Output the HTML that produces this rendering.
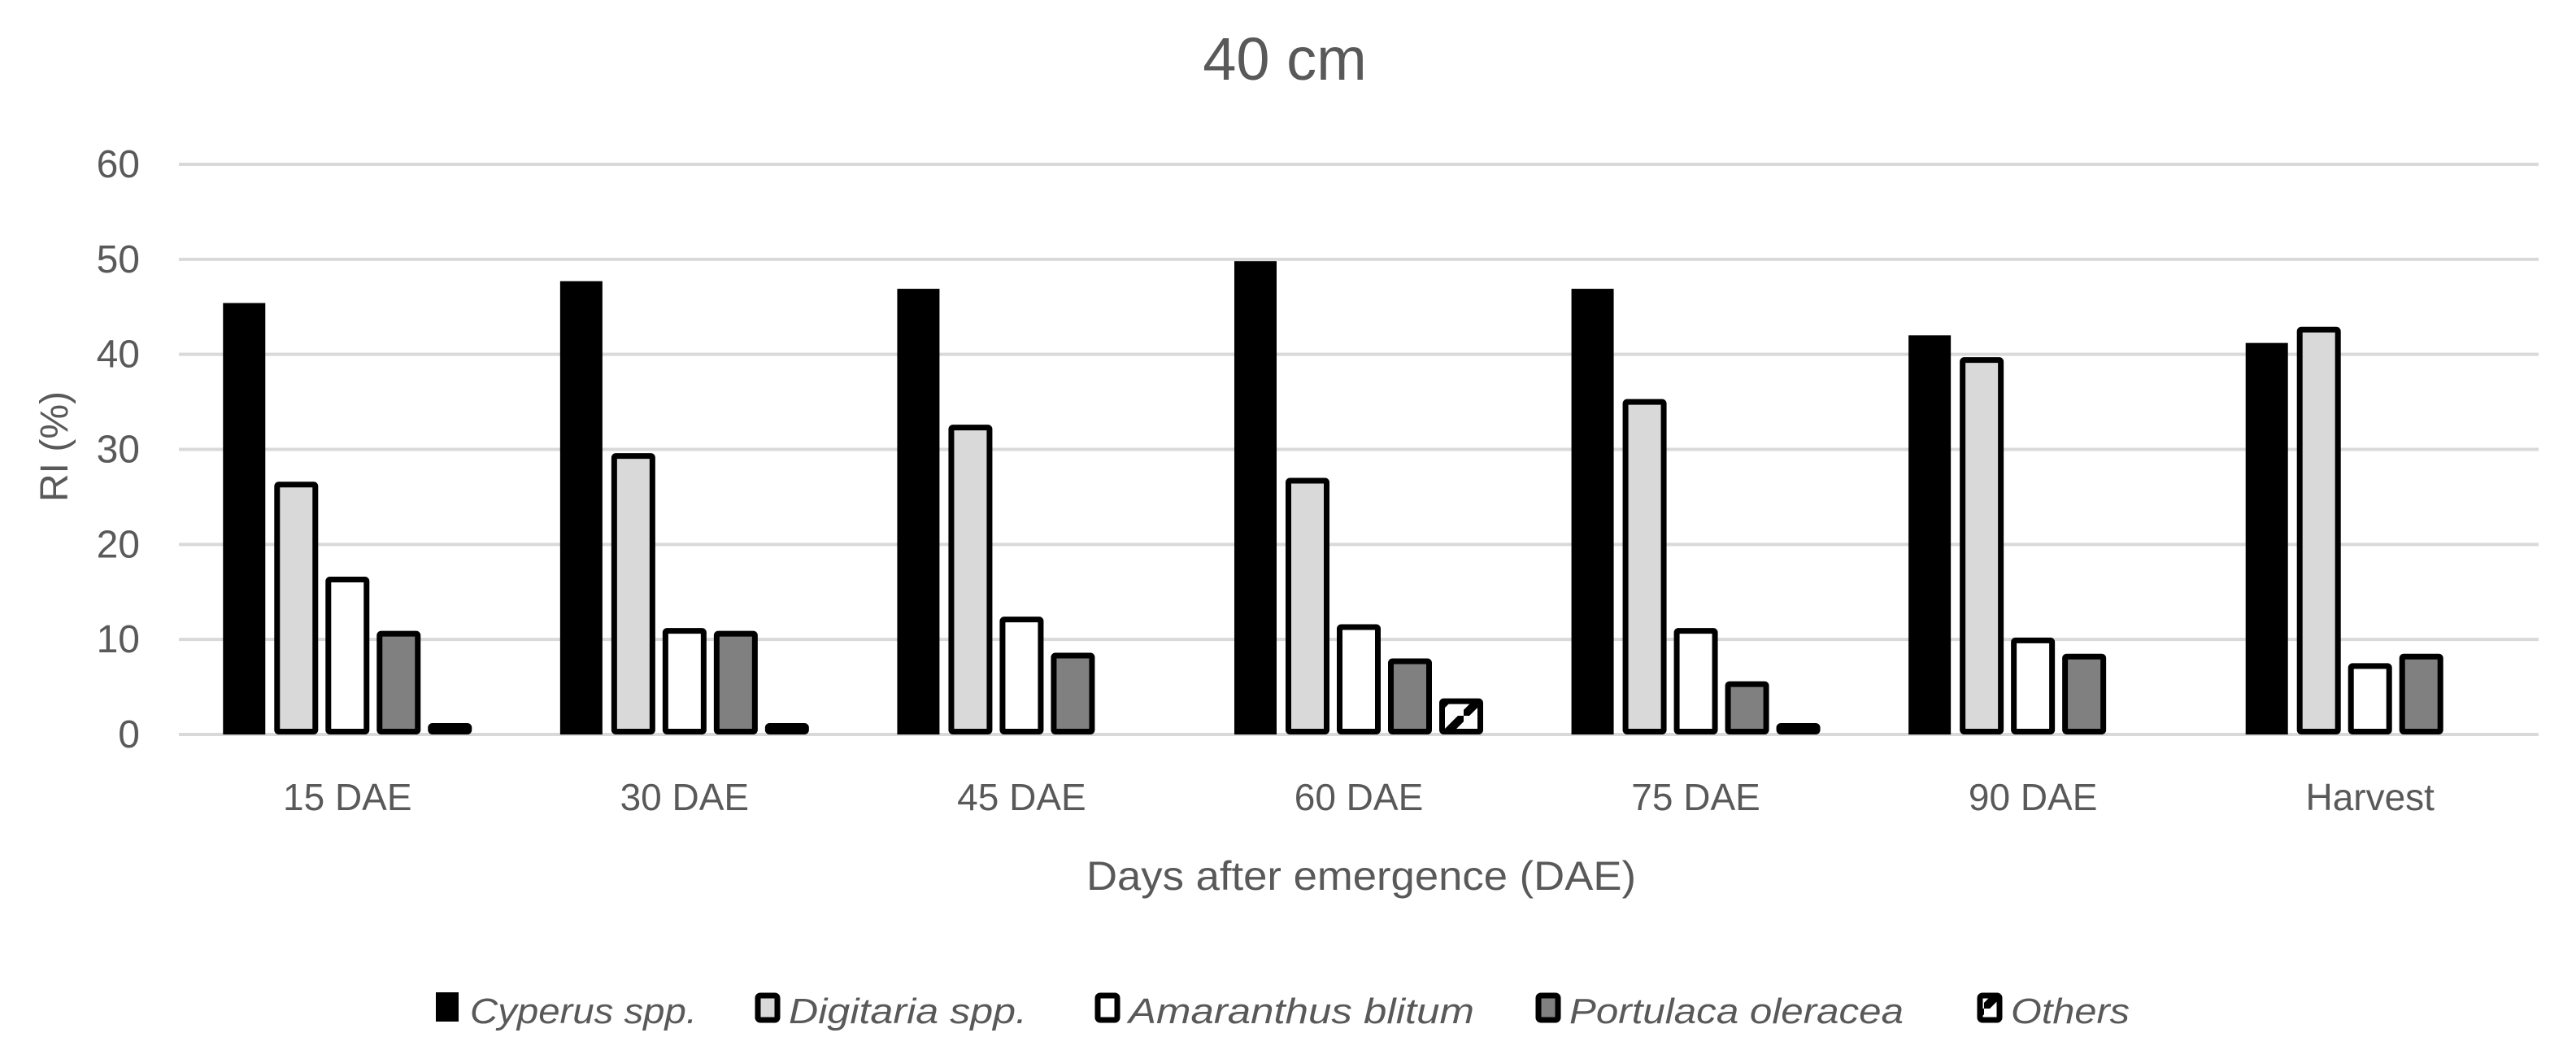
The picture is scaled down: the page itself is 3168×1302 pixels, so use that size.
<!DOCTYPE html>
<html><head><meta charset="utf-8">
<style>
html,body{margin:0;padding:0;background:#fff;}
svg{display:block;}
text{font-family:"Liberation Sans",sans-serif;fill:#595959;}
</style></head>
<body>
<svg id="chart" width="3168" height="1302" viewBox="0 0 3168 1302" xmlns="http://www.w3.org/2000/svg">
<defs>
<pattern id="hatch" patternUnits="userSpaceOnUse" width="40" height="40">
<rect width="40" height="40" fill="#fff"/>
<path d="M-10,50 L50,-10" stroke="#000" stroke-width="10"/>
</pattern>
</defs>
<text x="1580" y="98" font-size="74" text-anchor="middle">40 cm</text>
<g id="grid"></g>
<g id="yticks"></g>
<g id="bars"></g>
<g id="xticks"></g>
<text transform="translate(83,549) rotate(-90)" font-size="48" text-anchor="middle">RI (%)</text>
<text x="1674" y="1094" font-size="50" text-anchor="middle" textLength="676" lengthAdjust="spacingAndGlyphs">Days after emergence (DAE)</text>
<g id="legend"></g>
</svg>
<script>
const categories = ["15 DAE","30 DAE","45 DAE","60 DAE","75 DAE","90 DAE","Harvest"];
const cyperus    = [45.4, 47.7, 46.9, 49.8, 46.9, 42.0, 41.2];
const digitaria  = [26.6, 29.6, 32.6, 27.0, 35.3, 39.7, 42.9];
const amaranthus = [16.6, 11.2, 12.4, 11.6, 11.2, 10.2, 7.5];
const portulaca  = [10.9, 10.9, 8.6, 8.0, 5.6, 8.5, 8.5];
const others     = [1.2, 1.2, 0, 3.8, 1.2, 0, 0];
const yTicks = [0,10,20,30,40,50,60];
const seriesNames = ["Cyperus spp.","Digitaria spp.","Amaranthus blitum","Portulaca oleracea","Others"];

const NS="http://www.w3.org/2000/svg";
const L=220,R=3122,Y0=903,Y60=202;
const y=v=>Y0-(v/60)*(Y0-Y60);
const catW=(R-L)/categories.length;
const xc=i=>L+catW*(i+0.5);
const series=[cyperus,digitaria,amaranthus,portulaca,others];
const fills=["#000","#d9d9d9","#fff","#808080","url(#hatch)"];
const keys=["cyperus","digitaria","amaranthus","portulaca","others"];
function mk(t,a,p){const e=document.createElementNS(NS,t);for(const k in a)e.setAttribute(k,a[k]);p.appendChild(e);return e;}
const grid=document.getElementById('grid'),yt=document.getElementById('yticks');
yTicks.forEach(v=>{
  const g=mk('line',{x1:L,x2:R,y1:y(v),y2:y(v),stroke:'#d9d9d9','stroke-width':4},grid);
  
  
  const t=mk('text',{x:172,y:y(v)+16,'font-size':48,'text-anchor':'end'},yt);
  t.textContent=v;
  
  
});
const bars=document.getElementById('bars');
const pitch=63,bw=54,sw=7;
categories.forEach((c,i)=>{
  series.forEach((s,j)=>{
    const v=s[i]; if(!v) return;
    const x0=xc(i)-153+j*pitch;
    let r;
    if(j===0){ r=mk('rect',{x:x0,y:y(v),width:bw-2,height:Y0-y(v),fill:'#000'},bars); }
    else { r=mk('rect',{x:x0+sw/2,y:y(v)+sw/2,width:bw-sw,height:Math.max(0,Y0-y(v)-sw),fill:fills[j],stroke:'#000','stroke-width':sw,rx:2},bars); }
    
    
  });
  const t=mk('text',{x:xc(i),y:996,'font-size':46,'text-anchor':'middle'},document.getElementById('xticks'));
  t.textContent=c;
  
  
});
const leg=document.getElementById('legend');
const lx=[536,928,1346,1888,2431], tw=[279,293,425,411,146];
seriesNames.forEach((n,j)=>{
  let m;
  if(j===0) m=mk('rect',{x:lx[j],y:1220,width:28,height:36,fill:'#000'},leg);
  else m=mk('rect',{x:lx[j]+4,y:1224,width:24,height:30,fill:fills[j],stroke:'#000','stroke-width':7,rx:3},leg);
  
  
  const t=mk('text',{x:lx[j]+42,y:1258,'font-size':44,'font-style':'italic',textLength:tw[j],lengthAdjust:'spacingAndGlyphs'},leg);
  t.textContent=n;
  
  
});
</script>
</body></html>
